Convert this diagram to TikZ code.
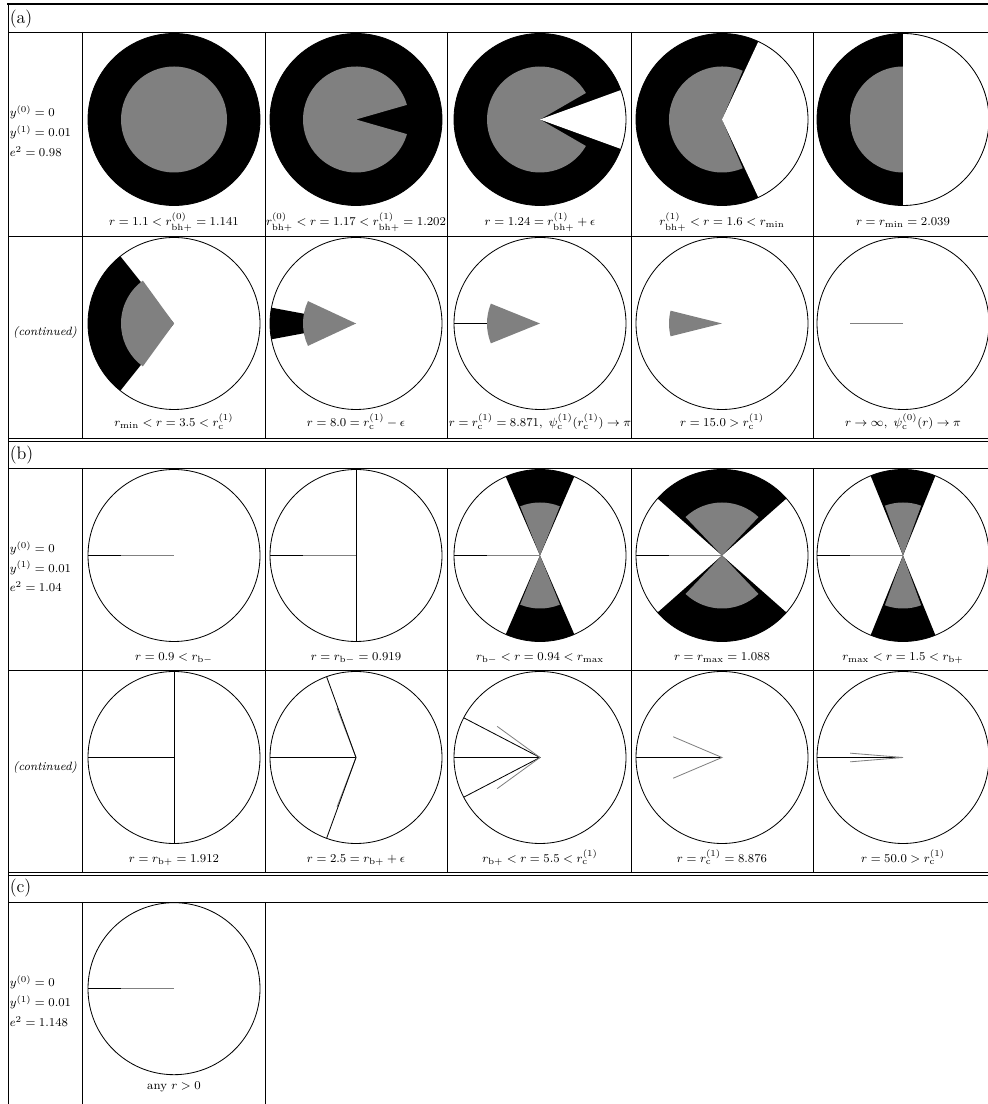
\documentclass[tikz,border=0pt]{standalone}
\begin{document}
\begin{tikzpicture}[
    x=0.6667pt, y=0.6667pt,
    rule/.style={line width=0.55pt},
    rim/.style={draw=black, line width=0.55pt},
    hole/.style={fill=black},
    core/.style={fill=gray},
    ray/.style={line width=0.55pt},
    lbl/.style={anchor=base, font=\footnotesize, inner sep=0pt},
    par/.style={anchor=west, font=\footnotesize, align=left, inner sep=1pt},
    head/.style={anchor=west, font=\large, inner sep=1pt}
  ]
  \useasboundingbox (0,0) rectangle (988,1104);
  \clip (0,0) rectangle (988,1104);

  % table rules
  \draw[line width=1.3pt] (7,1100) -- (1000,1100);
  \draw[rule] (8,1100) -- (8,-5);
  \draw[rule] (8,1072) -- (1000,1072);
  \draw[rule] (8,868) -- (1000,868);
  \draw[rule] (8,666) -- (1000,666);
  \draw[rule] (8,663) -- (1000,663);
  \draw[rule] (8,636) -- (1000,636);
  \draw[rule] (8,434) -- (1000,434);
  \draw[rule] (8,232) -- (1000,232);
  \draw[rule] (8,229) -- (1000,229);
  \draw[rule] (8,202) -- (1000,202);
  \draw[rule] (82,1072) -- (82,666) (82,636) -- (82,232) (82,202) -- (82,-5);
  \draw[rule] (265,1072) -- (265,666) (265,636) -- (265,232) (265,202) -- (265,-5);
  \draw[rule] (447,1072) -- (447,666) (447,636) -- (447,232);
  \draw[rule] (631,1072) -- (631,666) (631,636) -- (631,232);
  \draw[rule] (813,1072) -- (813,666) (813,636) -- (813,232);

  % (a)
  \node[head] (ha) at (8,1085) {(a)};
  \node[par] (pa) at (8,973) {$y^{(0)} = 0$\\[3.7pt] $y^{(1)} = 0.01$\\[3.7pt] $e^2 = 0.98$};
  \node[font=\footnotesize\itshape] (ca) at (45,771) {(continued)};

  \begin{scope}[shift={(174,984.5)}]
    \fill[hole] (0,0) circle[radius=86];
    \fill[core] (0,0) circle[radius=53];
    \draw[rim] (0,0) circle[radius=86];
  \end{scope}
  \begin{scope}[shift={(356,984.5)}]
    \fill[hole] (0,0) circle[radius=86];
    \fill[core] (0,0) -- (16:53) arc[start angle=16, end angle=344, radius=53] -- cycle;
    \draw[rim] (0,0) circle[radius=86];
  \end{scope}
  \begin{scope}[shift={(540,984.5)}]
    \fill[hole] (0,0) circle[radius=86];
    \fill[core] (0,0) -- (30:53) arc[start angle=30, end angle=330, radius=53] -- cycle;
    \fill[white] (0,0) -- (-20:86) arc[start angle=-20, end angle=20, radius=86] -- cycle;
    \draw[rim] (0,0) circle[radius=86];
  \end{scope}
  \begin{scope}[shift={(722,984.5)}]
    \fill[hole] (0,0) circle[radius=86];
    \fill[core] (0,0) -- (67:53) arc[start angle=67, end angle=293, radius=53] -- cycle;
    \fill[white] (0,0) -- (-65:86) arc[start angle=-65, end angle=65, radius=86] -- cycle;
    \draw[rim] (0,0) circle[radius=86];
  \end{scope}
  \begin{scope}[shift={(903,984.5)}]
    \fill[hole] (0,0) circle[radius=86];
    \fill[core] (0,0) -- (90:53) arc[start angle=90, end angle=270, radius=53] -- cycle;
    \fill[white] (0,0) -- (-90:86) arc[start angle=-90, end angle=90, radius=86] -- cycle;
    \draw[rim] (0,0) circle[radius=86];
  \end{scope}
  \node[lbl] (a1) at (174,878) {$r = 1.1 < r^{(0)}_{\mathrm{bh}+} = 1.141$};
  \node[lbl] (a2) at (356,878) {$r^{(0)}_{\mathrm{bh}+} < r = 1.17 < r^{(1)}_{\mathrm{bh}+} = 1.202$};
  \node[lbl] (a3) at (540,878) {$r = 1.24 = r^{(1)}_{\mathrm{bh}+} + \epsilon$};
  \node[lbl] (a4) at (722,878) {$r^{(1)}_{\mathrm{bh}+} < r = 1.6 < r_{\mathrm{min}}$};
  \node[lbl] (a5) at (903,878) {$r = r_{\mathrm{min}} = 2.039$};

  \begin{scope}[shift={(174,780.5)}]
    \fill[hole] (0,0) -- (128.6:86) arc[start angle=128.6, end angle=231.4, radius=86] -- cycle;
    \fill[core] (0,0) -- (126:53) arc[start angle=126, end angle=234, radius=53] -- cycle;
    \draw[rim] (0,0) circle[radius=86];
  \end{scope}
  \begin{scope}[shift={(356,780.5)}]
    \fill[hole] (0,0) -- (169.4:86) arc[start angle=169.4, end angle=190.6, radius=86] -- cycle;
    \fill[core] (0,0) -- (155:53) arc[start angle=155, end angle=205, radius=53] -- cycle;
    \draw[rim] (0,0) circle[radius=86];
  \end{scope}
  \begin{scope}[shift={(540,780.5)}]
    \draw[ray] (180:86) -- (180:53);
    \fill[core] (0,0) -- (158:53) arc[start angle=158, end angle=202, radius=53] -- cycle;
    \draw[rim] (0,0) circle[radius=86];
  \end{scope}
  \begin{scope}[shift={(722,780.5)}]
    \fill[core] (0,0) -- (166:53) arc[start angle=166, end angle=194, radius=53] -- cycle;
    \draw[rim] (0,0) circle[radius=86];
  \end{scope}
  \begin{scope}[shift={(903,780.5)}]
    \draw[ray, gray] (0,0) -- (180:53);
    \draw[rim] (0,0) circle[radius=86];
  \end{scope}
  \node[lbl] (a6) at (174,677) {$r_{\mathrm{min}} < r = 3.5 < r^{(1)}_{\mathrm{c}}$};
  \node[lbl] (a7) at (356,677) {$r = 8.0 = r^{(1)}_{\mathrm{c}} - \epsilon$};
  \node[lbl] (a8) at (540,677) {$r = r^{(1)}_{\mathrm{c}} = 8.871,\ \psi^{(1)}_{\mathrm{c}}(r^{(1)}_{\mathrm{c}}) \to \pi$};
  \node[lbl] (a9) at (722,677) {$r = 15.0 > r^{(1)}_{\mathrm{c}}$};
  \node[lbl] (a10) at (903,677) {$r \to \infty,\ \psi^{(0)}_{\mathrm{c}}(r) \to \pi$};

  % (b)
  \node[head] (hb) at (8,649) {(b)};
  \node[par] (pb) at (8,537.3) {$y^{(0)} = 0$\\[3.7pt] $y^{(1)} = 0.01$\\[3.7pt] $e^2 = 1.04$};
  \node[font=\footnotesize\itshape] (cb) at (45,336.7) {(continued)};

  \begin{scope}[shift={(174,548.5)}]
    \draw[ray] (180:86) -- (180:53);
    \draw[ray, gray] (180:53) -- (0,0);
    \draw[rim] (0,0) circle[radius=86];
  \end{scope}
  \begin{scope}[shift={(356,548.5)}]
    \draw[ray] (180:86) -- (180:53);
    \draw[ray, gray] (180:53) -- (0,0);
    \draw[ray] (90:86) -- (270:86);
    \draw[rim] (0,0) circle[radius=86];
  \end{scope}
  \begin{scope}[shift={(540,548.5)}]
    \fill[hole] (0,0) -- (66.5:86) arc[start angle=66.5, end angle=113.5, radius=86] -- cycle;
    \fill[hole] (0,0) -- (246.5:86) arc[start angle=246.5, end angle=293.5, radius=86] -- cycle;
    \fill[core] (0,0) -- (68:53) arc[start angle=68, end angle=112, radius=53] -- cycle;
    \fill[core] (0,0) -- (248:53) arc[start angle=248, end angle=292, radius=53] -- cycle;
    \draw[ray] (180:86) -- (180:53);
    \draw[ray, gray] (180:53) -- (0,0);
    \draw[rim] (0,0) circle[radius=86];
  \end{scope}
  \begin{scope}[shift={(722,548.5)}]
    \fill[hole] (0,0) -- (41.5:86) arc[start angle=41.5, end angle=138.5, radius=86] -- cycle;
    \fill[hole] (0,0) -- (221.5:86) arc[start angle=221.5, end angle=318.5, radius=86] -- cycle;
    \fill[core] (0,0) -- (46.5:53) arc[start angle=46.5, end angle=133.5, radius=53] -- cycle;
    \fill[core] (0,0) -- (226.5:53) arc[start angle=226.5, end angle=313.5, radius=53] -- cycle;
    \draw[ray] (180:86) -- (180:53);
    \draw[ray, gray] (180:53) -- (0,0);
    \draw[rim] (0,0) circle[radius=86];
  \end{scope}
  \begin{scope}[shift={(903,548.5)}]
    \fill[hole] (0,0) -- (67.9:86) arc[start angle=67.9, end angle=112.1, radius=86] -- cycle;
    \fill[hole] (0,0) -- (247.9:86) arc[start angle=247.9, end angle=292.1, radius=86] -- cycle;
    \fill[core] (0,0) -- (70:53) arc[start angle=70, end angle=110, radius=53] -- cycle;
    \fill[core] (0,0) -- (250:53) arc[start angle=250, end angle=290, radius=53] -- cycle;
    \draw[ray] (180:86) -- (180:53);
    \draw[ray, gray] (180:53) -- (0,0);
    \draw[rim] (0,0) circle[radius=86];
  \end{scope}
  \node[lbl] (b1) at (174,443.3) {$r = 0.9 < r_{\mathrm{b}-}$};
  \node[lbl] (b2) at (356,443.3) {$r = r_{\mathrm{b}-} = 0.919$};
  \node[lbl] (b3) at (540,443.3) {$r_{\mathrm{b}-} < r = 0.94 < r_{\mathrm{max}}$};
  \node[lbl] (b4) at (722,443.3) {$r = r_{\mathrm{max}} = 1.088$};
  \node[lbl] (b5) at (903,443.3) {$r_{\mathrm{max}} < r = 1.5 < r_{\mathrm{b}+}$};

  \begin{scope}[shift={(174,346.5)}]
    \draw[ray] (180:86) -- (0,0);
    \draw[ray] (90:86) -- (270:86);
    \draw[rim] (0,0) circle[radius=86];
  \end{scope}
  \begin{scope}[shift={(356,346.5)}]
    \draw[ray] (180:86) -- (0,0);
    \draw[ray, gray] (111:53) -- (0,0) -- (249:53);
    \draw[ray] (110:86) -- (0,0) -- (250:86);
    \draw[rim] (0,0) circle[radius=86];
  \end{scope}
  \begin{scope}[shift={(540,346.5)}]
    \draw[ray] (180:86) -- (0,0);
    \draw[ray] (152.5:86) -- (0,0) -- (207.5:86);
    \draw[ray, gray] (144:53) -- (0,0) -- (216:53);
    \draw[rim] (0,0) circle[radius=86];
  \end{scope}
  \begin{scope}[shift={(722,346.5)}]
    \draw[ray] (180:86) -- (0,0);
    \draw[ray, gray] (157:53) -- (0,0) -- (203:53);
    \draw[rim] (0,0) circle[radius=86];
  \end{scope}
  \begin{scope}[shift={(903,346.5)}]
    \draw[ray] (180:86) -- (0,0);
    \draw[ray, gray] (175.3:53) -- (0,0) -- (184.7:53);
    \draw[rim] (0,0) circle[radius=86];
  \end{scope}
  \node[lbl] (b6) at (174,241.3) {$r = r_{\mathrm{b}+} = 1.912$};
  \node[lbl] (b7) at (356,241.3) {$r = 2.5 = r_{\mathrm{b}+} + \epsilon$};
  \node[lbl] (b8) at (540,241.3) {$r_{\mathrm{b}+} < r = 5.5 < r^{(1)}_{\mathrm{c}}$};
  \node[lbl] (b9) at (722,241.3) {$r = r^{(1)}_{\mathrm{c}} = 8.876$};
  \node[lbl] (b10) at (903,241.3) {$r = 50.0 > r^{(1)}_{\mathrm{c}}$};

  % (c)
  \node[head] (hc) at (8,215.7) {(c)};
  \node[par] (pc) at (8,103) {$y^{(0)} = 0$\\[3.7pt] $y^{(1)} = 0.01$\\[3.7pt] $e^2 = 1.148$};

  \begin{scope}[shift={(174,115.3)}]
    \draw[ray] (180:86) -- (180:53);
    \draw[ray, gray] (180:53) -- (0,0);
    \draw[rim] (0,0) circle[radius=86];
  \end{scope}
  \node[lbl] (c1) at (174,14) {any $r > 0$};
\end{tikzpicture}
\end{document}
